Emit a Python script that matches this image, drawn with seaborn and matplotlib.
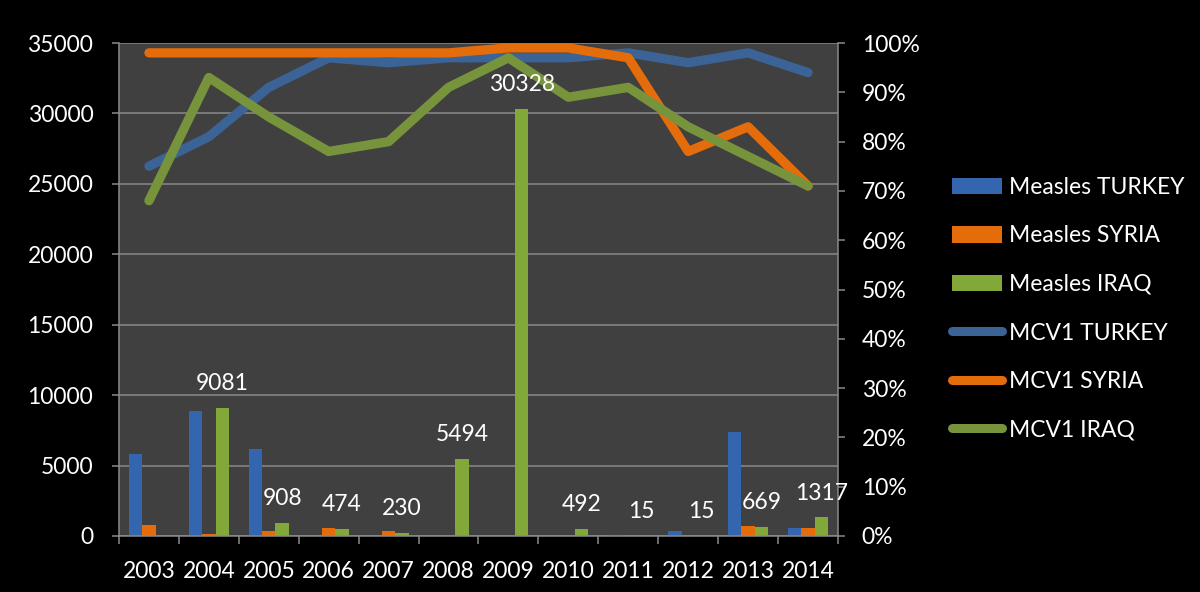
import numpy as np
import pandas as pd
import matplotlib
matplotlib.use("Agg")
import matplotlib.pyplot as plt
from matplotlib.patches import Patch
from matplotlib.lines import Line2D
import seaborn as sns

plt.rcParams['font.family'] = ['Lato', 'DejaVu Sans']

# ---------------- data ----------------
years = ["2003", "2004", "2005", "2006", "2007", "2008",
         "2009", "2010", "2011", "2012", "2013", "2014"]

measles_turkey = [5800, 8880, 6160, 0, 0, 0, 0, 0, 60, 350, 7365, 550]
measles_syria = [780, 140, 330, 550, 350, 0, 0, 0, 0, 0, 710, 550]
measles_iraq = [np.nan, 9081, 908, 474, 230, 5494, 30328, 492, 15, 15, 669, 1317]

mcv1_turkey = [75, 81, 91, 97, 96, 97, 97, 97, 98, 96, 98, 94]
mcv1_syria = [98, 98, 98, 98, 98, 98, 99, 99, 97, 78, 83, 71]
mcv1_iraq = [68, 93, 85, 78, 80, 91, 97, 89, 91, 83, 77, 71]

bar_series = ["Measles TURKEY", "Measles SYRIA", "Measles IRAQ"]
line_series = ["MCV1 TURKEY", "MCV1 SYRIA", "MCV1 IRAQ"]

bar_colors = ["#3366AE", "#E46C0A", "#82A83A"]
line_colors = ["#3B6396", "#E46C0A", "#77933C"]

left_ticks = [0, 5000, 10000, 15000, 20000, 25000, 30000, 35000]
right_ticks = [0, 10, 20, 30, 40, 50, 60, 70, 80, 90, 100]

# ---------------- tables ----------------
df_bars = pd.DataFrame({
    "year": years * 3,
    "series": np.repeat(bar_series, len(years)),
    "cases": measles_turkey + measles_syria + measles_iraq,
})
df_lines = pd.DataFrame({
    "pos": list(range(len(years))) * 3,
    "series": np.repeat(line_series, len(years)),
    "coverage": mcv1_turkey + mcv1_syria + mcv1_iraq,
})

# ---------------- figure ----------------
BG = "#000000"
PLOT_BG = "#404040"
GRID = "#8A8A8A"
FS = 16.5

fig = plt.figure(figsize=(12, 5.92), dpi=100, facecolor=BG)
ax = fig.add_axes([119 / 1200, 56 / 592, (838 - 119) / 1200, (536 - 43) / 592])
ax.set_facecolor(PLOT_BG)

sns.barplot(data=df_bars, x="year", y="cases", hue="series",
            hue_order=bar_series, palette=bar_colors, width=2 / 3,
            errorbar=None, saturation=1, legend=False, ax=ax, zorder=2)

ax.set_xlim(-0.5, len(years) - 0.5)
ax.set_ylim(0, 35000)
ax.set_yticks(left_ticks)
ax.set_yticklabels([str(v) for v in left_ticks])
ax.set_axisbelow(True)
ax.yaxis.grid(True, color=GRID, lw=1.1)
ax.xaxis.grid(False)

ax.set_xticks(np.arange(len(years)))
ax.set_xticklabels(years)
ax.set_xticks(np.arange(-0.5, len(years), 1), minor=True)
ax.tick_params(axis="x", which="major", length=0, pad=18, labelsize=FS,
               labelcolor="white")
ax.tick_params(axis="x", which="minor", length=6, width=1.1, color=GRID)
ax.tick_params(axis="y", length=5, width=1.1, color=GRID, pad=13.5,
               labelsize=FS, labelcolor="white")

for s in ["top", "right"]:
    ax.spines[s].set_visible(False)
for s in ["left", "bottom"]:
    ax.spines[s].set_color(GRID)
    ax.spines[s].set_linewidth(1.1)
ax.set_xlabel("")
ax.set_ylabel("")

# ---------------- coverage lines ----------------
ax2 = ax.twinx()
sns.lineplot(data=df_lines, x="pos", y="coverage", hue="series",
             hue_order=line_series, palette=line_colors, lw=6.7,
             legend=False, ax=ax2, solid_capstyle="round",
             solid_joinstyle="round")
ax2.set_xlim(-0.5, len(years) - 0.5)
ax2.set_ylim(0, 100)
ax2.set_yticks(right_ticks)
ax2.set_yticklabels([f"{v}%" for v in right_ticks])
ax2.tick_params(axis="y", length=5, width=1.1, color=GRID, pad=12,
                labelsize=FS, labelcolor="white")
for s in ["top", "left", "bottom"]:
    ax2.spines[s].set_visible(False)
ax2.spines["right"].set_color(GRID)
ax2.spines["right"].set_linewidth(1.1)
ax2.set_xlabel("")
ax2.set_ylabel("")
ax2.grid(False)

# data labels on Iraq bars (drawn above the lines)
for bar in ax.containers[2]:
    h = bar.get_height()
    if np.isfinite(h) and h > 0:
        ax2.annotate(f"{h:.0f}", (bar.get_x() + bar.get_width() / 2, h),
                     xycoords=ax.transData,
                     xytext=(0, 10), textcoords="offset points",
                     ha="center", va="bottom", color="white", fontsize=FS,
                     zorder=5)

# ---------------- legend ----------------
handles = [Patch(facecolor=c, edgecolor="none") for c in bar_colors]
handles += [Line2D([0], [0], color=c, lw=6.5, solid_capstyle="round")
            for c in line_colors]
labels = bar_series + line_series
fig.legend(handles, labels, loc="upper left",
           bbox_to_anchor=(952 / 1200, 1 - 177 / 592), frameon=False,
           fontsize=FS, labelcolor="white", handlelength=2.2,
           handletextpad=0.3, labelspacing=1.2, borderpad=0,
           borderaxespad=0)

fig.savefig("out.png", dpi=100, facecolor=BG)
